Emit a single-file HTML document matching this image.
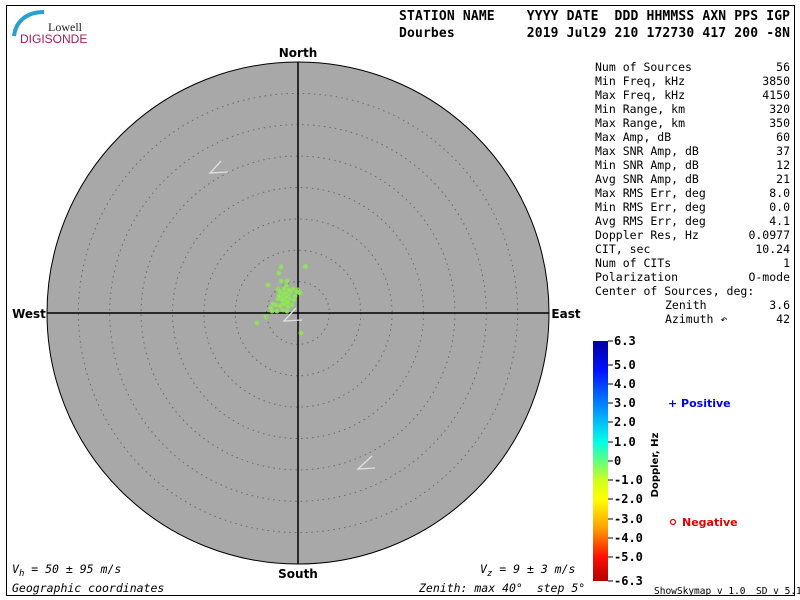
<!DOCTYPE html>
<html><head><meta charset="utf-8"><style>
html,body{margin:0;padding:0;background:#fff;width:800px;height:600px;overflow:hidden}
svg{display:block}
.m{font-family:"DejaVu Sans Mono","Liberation Mono",monospace}
</style></head><body>
<svg width="800" height="600" viewBox="0 0 800 600" xmlns="http://www.w3.org/2000/svg">
<defs>
<linearGradient id="cb" x1="0" y1="0" x2="0" y2="1">
<stop offset="0" stop-color="#0000a0"/>
<stop offset="0.12" stop-color="#0010ff"/>
<stop offset="0.3" stop-color="#00a0ff"/>
<stop offset="0.42" stop-color="#00ffe8"/>
<stop offset="0.5" stop-color="#60ff80"/>
<stop offset="0.58" stop-color="#d0ff20"/>
<stop offset="0.66" stop-color="#ffff00"/>
<stop offset="0.78" stop-color="#ffa000"/>
<stop offset="0.9" stop-color="#ff1000"/>
<stop offset="1" stop-color="#b00000"/>
</linearGradient>
</defs>
<rect x="6.5" y="5.5" width="788" height="590" fill="#fff" stroke="#000" stroke-width="1"/>
<path d="M14 36 C16 20 28 12 44 12" stroke="#2aa0d0" stroke-width="4" fill="none"/>
<text x="48" y="31" font-family="Liberation Serif,serif" font-size="12" fill="#222">Lowell</text>
<text x="20" y="43" font-family="Liberation Sans,sans-serif" font-size="12" fill="#a0205a">DIGISONDE</text>
<g class="m" font-size="13" font-weight="bold">
<text x="399" y="20" textLength="391" lengthAdjust="spacing">STATION NAME&#160;&#160;&#160;&#160;YYYY DATE&#160;&#160;DDD HHMMSS AXN PPS IGP</text>
<text x="399" y="37" textLength="391" lengthAdjust="spacing">Dourbes&#160;&#160;&#160;&#160;&#160;&#160;&#160;&#160;&#160;2019 Jul29 210 172730 417 200 -8N</text>
</g>
<circle cx="298" cy="313" r="251" fill="#a8a8a8" stroke="#000" stroke-width="1"/>
<g fill="none" stroke="#666" stroke-width="1" stroke-dasharray="1.5,4">
<circle cx="298" cy="313" r="31.4"/><circle cx="298" cy="313" r="62.8"/><circle cx="298" cy="313" r="94.1"/>
<circle cx="298" cy="313" r="125.5"/><circle cx="298" cy="313" r="156.9"/><circle cx="298" cy="313" r="188.3"/>
<circle cx="298" cy="313" r="219.6"/>
</g>
<line x1="47" y1="313" x2="549" y2="313" stroke="#000" stroke-width="1.5"/>
<line x1="298" y1="62" x2="298" y2="564" stroke="#000" stroke-width="1.5"/>
<g stroke="#e0e0e0" stroke-width="1.3" fill="none">
<polyline points="221,161 210,173 228,172"/>
<polyline points="372,456 358,469 375,468"/>
<polyline points="296,308 284,321 302,320"/>
</g>
<g font-family="DejaVu Sans,sans-serif" font-size="12" font-weight="bold" text-anchor="middle">
<text x="298" y="57">North</text><text x="298" y="578">South</text>
<text x="29" y="318">West</text><text x="566" y="318">East</text>
</g>
<g fill="#b0f080" fill-opacity="0.5" stroke="#80e840" stroke-width="1">
<circle cx="281" cy="267" r="2"/><circle cx="305.5" cy="266.5" r="2"/><circle cx="279" cy="273" r="2"/>
<circle cx="268" cy="285" r="2"/><circle cx="281" cy="281" r="2"/><circle cx="287" cy="281" r="2"/>
<circle cx="286" cy="286" r="2"/><circle cx="278" cy="289" r="2"/><circle cx="293" cy="289" r="2"/>
<circle cx="298" cy="290" r="2"/><circle cx="300" cy="293" r="2"/><circle cx="297" cy="292" r="2"/>
<circle cx="280" cy="292" r="2"/><circle cx="283" cy="294" r="2"/><circle cx="286" cy="293" r="2"/>
<circle cx="289" cy="295" r="2"/><circle cx="281" cy="297" r="2"/><circle cx="284" cy="298" r="2"/>
<circle cx="287" cy="297" r="2"/><circle cx="290" cy="299" r="2"/><circle cx="282" cy="300" r="2"/>
<circle cx="285" cy="301" r="2"/><circle cx="288" cy="302" r="2"/><circle cx="279" cy="296" r="2"/>
<circle cx="286" cy="304" r="2"/><circle cx="283" cy="304" r="2"/><circle cx="291" cy="292" r="2"/>
<circle cx="295" cy="296" r="2"/><circle cx="278" cy="299" r="2"/><circle cx="273" cy="304" r="2"/>
<circle cx="271" cy="308" r="2"/><circle cx="272" cy="311" r="2"/><circle cx="277" cy="311" r="2"/>
<circle cx="283" cy="310" r="2"/><circle cx="287" cy="311" r="2"/><circle cx="266" cy="317" r="2"/>
<circle cx="257" cy="323" r="2"/><circle cx="301" cy="333" r="2"/><circle cx="289" cy="290" r="2"/>
<circle cx="284" cy="289" r="2"/><circle cx="292" cy="305" r="2"/><circle cx="280" cy="306" r="2"/>
<circle cx="276" cy="305" r="2"/><circle cx="294" cy="300" r="2"/><circle cx="288" cy="307" r="2"/>
</g>
<g class="m" font-size="11.5" font-style="italic">
<text x="12" y="573">V<tspan font-size="9" dy="3">h</tspan><tspan dy="-3"> = 50 ± 95 m/s</tspan></text>
<text x="12" y="592">Geographic coordinates</text>
<text x="480" y="573">V<tspan font-size="9" dy="3">z</tspan><tspan dy="-3"> = 9 ± 3 m/s</tspan></text>
<text x="419" y="592">Zenith: max 40°&#160;&#160;step 5°</text>
</g>
<g class="m" font-size="11.5">
<text x="595" y="71">Num of Sources</text><text x="790" y="71" text-anchor="end">56</text>
<text x="595" y="85">Min Freq, kHz</text><text x="790" y="85" text-anchor="end">3850</text>
<text x="595" y="99">Max Freq, kHz</text><text x="790" y="99" text-anchor="end">4150</text>
<text x="595" y="113">Min Range, km</text><text x="790" y="113" text-anchor="end">320</text>
<text x="595" y="127">Max Range, km</text><text x="790" y="127" text-anchor="end">350</text>
<text x="595" y="141">Max Amp, dB</text><text x="790" y="141" text-anchor="end">60</text>
<text x="595" y="155">Max SNR Amp, dB</text><text x="790" y="155" text-anchor="end">37</text>
<text x="595" y="169">Min SNR Amp, dB</text><text x="790" y="169" text-anchor="end">12</text>
<text x="595" y="183">Avg SNR Amp, dB</text><text x="790" y="183" text-anchor="end">21</text>
<text x="595" y="197">Max RMS Err, deg</text><text x="790" y="197" text-anchor="end">8.0</text>
<text x="595" y="211">Min RMS Err, deg</text><text x="790" y="211" text-anchor="end">0.0</text>
<text x="595" y="225">Avg RMS Err, deg</text><text x="790" y="225" text-anchor="end">4.1</text>
<text x="595" y="239">Doppler Res, Hz</text><text x="790" y="239" text-anchor="end">0.0977</text>
<text x="595" y="253">CIT, sec</text><text x="790" y="253" text-anchor="end">10.24</text>
<text x="595" y="267">Num of CITs</text><text x="790" y="267" text-anchor="end">1</text>
<text x="595" y="281">Polarization</text><text x="790" y="281" text-anchor="end">O-mode</text>
<text x="595" y="295">Center of Sources, deg:</text>
<text x="665" y="309">Zenith</text><text x="790" y="309" text-anchor="end">3.6</text>
<text x="665" y="323">Azimuth ↶</text><text x="790" y="323" text-anchor="end">42</text>
</g>
<rect x="593" y="341" width="15" height="240" fill="url(#cb)"/>
<g stroke="#000" stroke-width="1">
<line x1="608" y1="341" x2="613" y2="341"/><line x1="608" y1="365" x2="613" y2="365"/>
<line x1="608" y1="384" x2="613" y2="384"/><line x1="608" y1="403" x2="613" y2="403"/>
<line x1="608" y1="422" x2="613" y2="422"/><line x1="608" y1="442" x2="613" y2="442"/>
<line x1="608" y1="461" x2="613" y2="461"/><line x1="608" y1="480" x2="613" y2="480"/>
<line x1="608" y1="499" x2="613" y2="499"/><line x1="608" y1="519" x2="613" y2="519"/>
<line x1="608" y1="538" x2="613" y2="538"/><line x1="608" y1="557" x2="613" y2="557"/>
<line x1="608" y1="581" x2="613" y2="581"/>
</g>
<g class="m" font-size="12" font-weight="bold">
<text x="614" y="345">6.3</text><text x="614" y="369">5.0</text><text x="614" y="388">4.0</text>
<text x="614" y="407">3.0</text><text x="614" y="426">2.0</text><text x="614" y="446">1.0</text>
<text x="614" y="465">0</text><text x="614" y="484">-1.0</text><text x="614" y="503">-2.0</text>
<text x="614" y="523">-3.0</text><text x="614" y="542">-4.0</text><text x="614" y="561">-5.0</text>
<text x="614" y="585">-6.3</text>
</g>
<text transform="translate(658,465) rotate(-90)" text-anchor="middle" font-family="DejaVu Sans,sans-serif" font-size="10" font-weight="bold">Doppler, Hz</text>
<g font-family="DejaVu Sans,sans-serif" font-size="11" font-weight="bold">
<text x="668" y="407" fill="#0000e0">+ Positive</text>
<circle cx="673" cy="522" r="2.5" fill="none" stroke="#e00000" stroke-width="1.2"/>
<text x="682" y="526" fill="#e00000">Negative</text>
</g>
<g class="m" font-size="9.5">
<text x="654" y="594">ShowSkymap v 1.0</text><text x="756" y="594">SD v 5.1</text>
</g>
</svg>
</body></html>
